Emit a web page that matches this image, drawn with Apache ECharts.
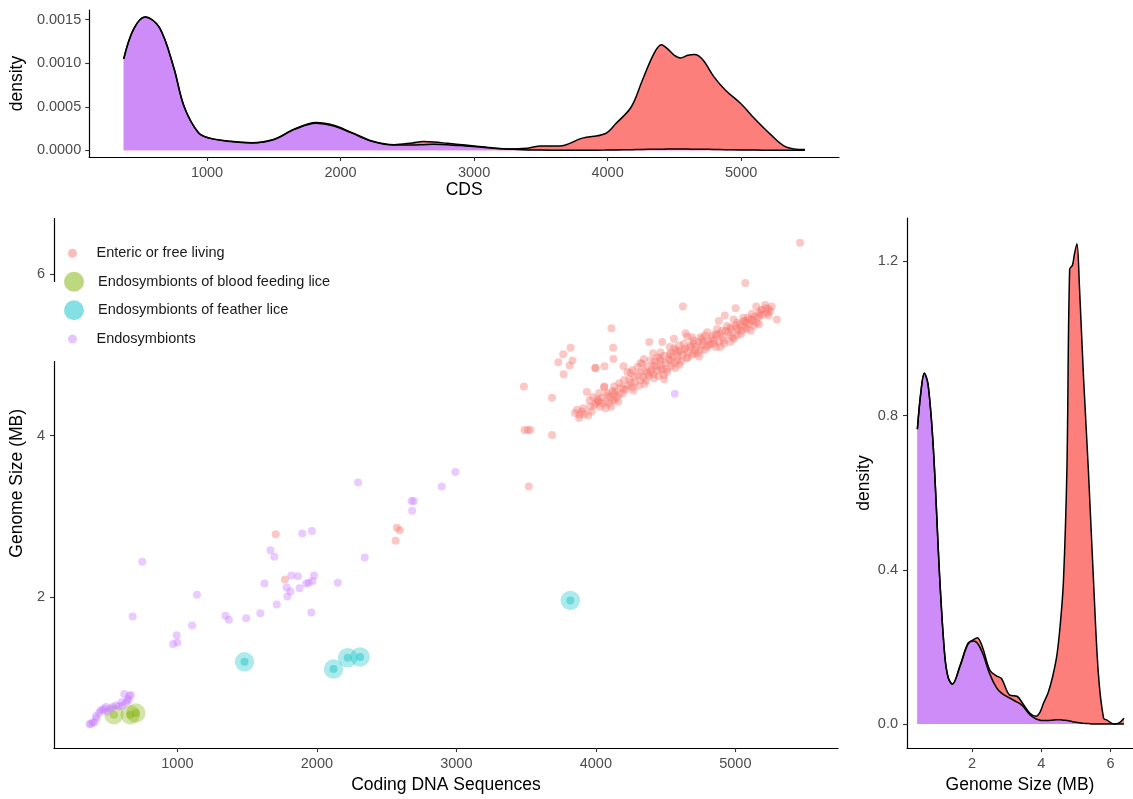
<!DOCTYPE html>
<html><head><meta charset="utf-8">
<script src="https://cdn.jsdelivr.net/npm/echarts@6/dist/echarts.min.js"></script>
<style>html,body{margin:0;padding:0;background:#fff}#c{width:1133px;height:799px}</style>
</head><body><div id="c"></div>
<script>
// ---------- marginal density: CDS (top panel) ----------
const cdsGrid = [376,450,536,643,749,829,936,1016,1176,1336,1496,1656,1816,1949,2082,2242,2402,2540,2620,2700,2800,2935,3100,3250,3400,3500,3641,3811,3980,4064,4178,4262,4347,4403,4445,4500,4545,4600,4650,4713,4798,4883,4995,5109,5222,5335,5478];
// endosymbionts density (purple area)
const cdsDensEndo = [0.00105,0.00139,0.00153,0.00141,0.00096,0.00050,0.00020,0.00014,0.00010,0.000085,0.00012,0.00024,0.00031,0.00028,0.00020,0.00010,0.00006,0.00006,0.000065,0.00007,0.000065,0.00005,0.00003,0.000015,0.000005,0.000003,0.000002,0.000002,0.000003,0.000005,0.000008,0.00001,0.000012,0.000013,0.000014,0.000014,0.000014,0.000014,0.000013,0.000012,0.00001,0.000008,0.000005,0.000003,0.000001,0,0];
// upper outline of the stacked densities (top of the red area)
const cdsDensTotal = [0.00105,0.00139,0.00153,0.00141,0.00096,0.00050,0.000202,0.000143,0.000103,0.000088,0.000124,0.000246,0.00032,0.000288,0.000205,0.000104,0.000065,0.000085,0.0001,0.000095,0.00008,0.00006,0.000035,0.000016,0.000025,0.00005,0.00005,0.00014,0.00019,0.00031,0.0005,0.00081,0.00111,0.00121,0.00117,0.00109,0.00106,0.00109,0.0011,0.00104,0.00084,0.00069,0.00054,0.00035,0.00018,0.00004,0.00001];
const cdsTicks = [1000,2000,3000,4000,5000];
const cdsDensTicks = [0,0.0005,0.0010,0.0015];

// ---------- marginal density: genome size (right panel) ----------
const gsGrid = [0.42,0.52,0.62,0.73,0.88,1.07,1.21,1.31,1.43,1.65,1.88,2.03,2.15,2.3,2.51,2.7,2.85,3.09,3.3,3.45,3.67,3.85,3.96,4.06,4.2,4.32,4.45,4.55,4.64,4.74,4.82,4.9,4.96,5.03,5.1,5.22,5.36,5.51,5.65,5.8,5.9,6.1,6.25,6.39];
const gsDensEndo = [0.765,0.86,0.91,0.88,0.717,0.37,0.178,0.12,0.103,0.149,0.207,0.215,0.21,0.185,0.13,0.095,0.08,0.067,0.057,0.048,0.024,0.013,0.01,0.009,0.009,0.01,0.011,0.011,0.01,0.009,0.008,0.006,0.005,0.004,0.003,0.002,0.001,0,0,0,0,0,0,0];
const gsDensTotal = [0.765,0.86,0.91,0.88,0.717,0.371,0.179,0.121,0.104,0.151,0.209,0.218,0.224,0.2,0.14,0.125,0.118,0.075,0.072,0.055,0.028,0.02,0.03,0.053,0.082,0.12,0.178,0.26,0.37,0.66,1.18,1.19,1.22,1.246,1.14,0.9,0.66,0.37,0.13,0.015,0.01,0,0.003,0.015];
const gsTicks = [2,4,6];
const gsDensTicks = [0,0.4,0.8,1.2];

// ---------- scatter: [coding DNA sequences, genome size MB] ----------
const enteric = [[1705,2.78],[1771,2.22],[2564,2.70],[2574,2.86],[2595,2.83],[3519,3.37],[3484,4.61],[3488,4.07],[3512,4.07],[3531,4.07],[3686,4.47],[3686,4.01],[3819,5.09],[3766,5.01],[3731,4.91],[3833,4.93],[3812,4.87],[3769,4.76],[3998,4.84],[4062,4.86],[4124,5.09],[4112,5.33],[3936,4.54],[3866,4.32],[3883,4.26],[3916,4.27],[3945,4.25],[3955,4.44],[3960,4.36],[4016,4.43],[4060,4.60],[4083,4.50],[4131,4.52],[4126,4.95],[5071,5.89],[4624,5.60],[4383,5.16],[4476,5.16],[4643,5.27],[4655,5.23],[5002,5.58],[4924,5.49],[4881,5.42],[5150,5.60],[5214,5.62],[5238,5.57],[5186,5.55],[5298,5.44],[5238,5.49],[5107,5.44],[5057,5.46],[5131,5.36],[5071,5.34],[5012,5.32],[4940,5.36],[4869,5.32],[4798,5.28],[4750,5.22],[4869,5.24],[4964,5.24],[4917,5.18],[4821,5.14],[4762,5.20],[4702,5.14],[4679,5.10],[4631,5.06],[4595,5.12],[4560,5.08],[4536,5.02],[4488,4.99],[4464,5.03],[4440,4.97],[4393,4.93],[4345,4.95],[4333,4.89],[4298,4.85],[4262,4.81],[4226,4.79],[4198,4.86],[3995,4.84],[4202,4.69],[4167,4.65],[4131,4.61],[4060,4.61],[4119,4.55],[4083,4.53],[4024,4.53],[4071,4.42],[4119,4.45],[4012,4.45],[4464,4.93],[4417,4.87],[4369,4.85],[4321,4.79],[4274,4.73],[4369,4.77],[4488,4.75],[4417,4.71],[4512,4.83],[4583,4.93],[4655,4.97],[4702,5.02],[4750,5.06],[4798,5.10],[4845,5.14],[4893,5.10],[4964,5.16],[5012,5.24],[5048,5.30],[5083,5.32],[5155,5.40],[5012,5.40],[4964,5.34],[5179,5.49],[5119,5.51],[5071,5.42],[4988,5.44],[4905,5.30],[4833,5.24],[4738,5.16],[4631,5.14],[4583,5.03],[4536,4.93],[4464,4.83],[4393,4.79],[4321,4.69],[4250,4.65],[4214,4.57],[4167,4.51],[4131,4.44],[4095,4.40],[4019,4.42],[5464,6.39],
[3990,4.38],[4040,4.47],[4050,4.40],[4100,4.48],[4140,4.55],[4150,4.47],[4180,4.60],[4190,4.52],[4230,4.62],[4240,4.70],[4260,4.60],[4280,4.66],[4300,4.75],[4310,4.62],[4340,4.72],[4350,4.80],[4360,4.68],[4380,4.74],[4400,4.82],[4410,4.76],[4430,4.86],[4440,4.80],[4450,4.74],[4470,4.88],[4480,4.82],[4500,4.90],[4510,4.79],[4520,4.94],[4540,4.86],[4550,4.98],[4560,4.90],[4570,4.84],[4590,4.98],[4600,5.05],[4610,4.92],[4620,5.00],[4640,5.08],[4650,4.96],[4660,5.04],[4680,5.12],[4690,5.00],[4710,5.06],[4720,5.10],[4730,5.02],[4760,5.12],[4770,5.16],[4780,5.06],[4800,5.18],[4810,5.12],[4830,5.20],[4850,5.18],[4860,5.26],[4880,5.16],[4890,5.26],[4910,5.22],[4930,5.30],[4950,5.28],[4970,5.32],[4980,5.22],[5000,5.36],[5020,5.30],[5030,5.38],[5050,5.36],[5060,5.42],[5080,5.40],[5090,5.46],[5100,5.38],[5120,5.44],[5140,5.48],[5160,5.46],[5170,5.52],[5190,5.56],[5200,5.50],[5220,5.58],[5230,5.52],[5250,5.54],[5260,5.60],[4420,4.92],[4460,4.96],[4530,5.00],[4575,5.06],[4700,5.18],[4740,4.98],[4600,4.88],[4490,4.70],[4350,4.64],[4270,4.56],[4200,4.58],[4160,4.42],[4110,4.36],[4070,4.34],[3970,4.30],[3900,4.30],[3880,4.22],[3910,4.34],[3850,4.28],[3980,4.48],[4000,4.40],[4030,4.36],[4860,5.10],[4920,5.14],[4990,5.20],[5040,5.26],[5110,5.30],[5130,5.42],[5170,5.38],[4780,5.24],[4690,5.22],[4560,5.20],[4530,5.10],[4410,5.02],[4320,4.90],[4250,4.78]];
const endosymbionts = [[369,0.43],[381,0.43],[393,0.45],[405,0.45],[417,0.53],[420,0.50],[440,0.57],[450,0.60],[464,0.60],[476,0.62],[488,0.64],[500,0.58],[520,0.62],[536,0.64],[560,0.66],[583,0.65],[600,0.70],[607,0.66],[619,0.80],[631,0.70],[643,0.74],[650,0.72],[655,0.78],[667,0.79],
[679,1.76],[748,2.44],[969,1.42],[995,1.53],[1000,1.44],[1105,1.65],[1140,2.03],[1345,1.77],[1369,1.72],[1493,1.74],[1595,1.80],[1624,2.17],[1667,2.58],[1695,2.50],[1712,1.91],[1783,2.12],[1788,2.01],[1810,2.07],[1817,2.27],[1864,2.26],[1876,2.11],[1895,2.79],[1924,2.17],[1941,2.18],[1960,1.81],[1964,2.82],[1969,2.20],[1979,2.27],[2150,2.18],[2295,3.42],[2343,2.49],[2679,3.19],[2695,3.19],[2683,3.07],[2895,3.37],[2993,3.55],[4566,4.52]];
const bloodLice = [[545,0.545],[662,0.545],[702,0.565]];
const featherLice = [[1481,1.20],[2119,1.11],[2221,1.25],[2310,1.26],[3817,1.96]];
const scatterXTicks = [1000,2000,3000,4000,5000];
const scatterYTicks = [2,4,6];

const legendNames = ['Enteric or free living','Endosymbionts of blood feeding lice','Endosymbionts of feather lice','Endosymbionts'];

const FONT = 'Liberation Sans, Arial, Helvetica, sans-serif';
const zip = (xs, ys) => xs.map((x, i) => [x, ys[i]]);

function axis(o) {
  return {
    type: 'value', gridIndex: o.grid, min: o.min, max: o.max,
    name: o.name, nameLocation: 'middle', nameGap: o.gap,
    nameTextStyle: {color: '#000', fontSize: 17.5, fontFamily: FONT},
    axisLine: {show: true, onZero: false, lineStyle: {color: '#000', width: 1.2}},
    axisTick: {show: true, length: 4, customValues: o.ticks, lineStyle: {color: '#333', width: 1.1}},
    axisLabel: {customValues: o.ticks, color: '#4D4D4D', fontSize: 14.5, fontFamily: FONT, margin: o.margin, formatter: o.fmt},
    splitLine: {show: false}
  };
}

const chart = echarts.init(document.getElementById('c'), null, {renderer: 'canvas'});

const legendY = [253.3, 281.7, 310.3, 339];
const legendSz = [9, 20, 20, 9];
const legendLeft = [68, 64, 64, 68];
const legendCol = ['rgba(248,118,109,0.6)', 'rgba(124,174,0,0.62)', 'rgba(0,191,196,0.6)', 'rgba(199,124,255,0.55)'];

function densityLine(name, xi, xs, ys, fill) {
  return {type: 'line', name, xAxisIndex: xi, yAxisIndex: xi, data: zip(xs, ys), smooth: 0.35, symbol: 'none',
    lineStyle: {color: '#000', width: 1.5}, areaStyle: {color: fill, opacity: 1, origin: 0}, silent: true};
}

const option = {
  animation: false,
  backgroundColor: '#fff',
  textStyle: {fontFamily: FONT},
  grid: [
    {left: 87.5, top: 10, width: 751.5, height: 147},
    {left: 50.7, top: 218.5, width: 787.3, height: 534.5},
    {left: 907, top: 218, width: 226, height: 536}
  ],
  xAxis: [
    axis({grid: 0, min: 118, max: 5733, name: 'CDS', gap: 24, ticks: cdsTicks, margin: 8, fmt: v => String(v)}),
    axis({grid: 1, min: 115, max: 5736, name: 'Coding DNA Sequences', gap: 27, ticks: scatterXTicks, margin: 8, fmt: v => String(v)}),
    axis({grid: 2, min: 0.12, max: 6.65, name: 'Genome Size (MB)', gap: 25.5, ticks: gsTicks, margin: 8, fmt: v => String(v)})
  ],
  yAxis: [
    axis({grid: 0, min: -0.0000765, max: 0.00161, name: 'density', gap: 59, ticks: cdsDensTicks, margin: 8, fmt: v => v.toFixed(4)}),
    axis({grid: 1, min: 0.131, max: 6.69, name: 'Genome Size (MB)', gap: 22, ticks: scatterYTicks, margin: 9, fmt: v => String(v)}),
    axis({grid: 2, min: -0.0625, max: 1.3125, name: 'density', gap: 33.5, ticks: gsDensTicks, margin: 9, fmt: v => v.toFixed(1)})
  ],
  legend: legendNames.map((n, i) => ({
    data: [{name: n, icon: 'circle', itemStyle: {color: legendCol[i]}}],
    left: legendLeft[i], top: legendY[i] - Math.max(legendSz[i], 15) / 2, padding: 0,
    itemWidth: 38, itemHeight: legendSz[i], selectedMode: false,
    textStyle: {fontSize: 14.5, color: '#1a1a1a', fontFamily: FONT}
  })),
  graphic: [
    {type: 'rect', shape: {x: 44, y: 282, width: 12, height: 79}, style: {fill: '#fff'}, z: 100, silent: true}
  ],
  series: [
    densityLine('cdsUpper', 0, cdsGrid, cdsDensTotal, '#FD7F7B'),
    densityLine('cdsEndo', 0, cdsGrid, cdsDensEndo, '#CD8CF7'),
    densityLine('gsUpper', 2, gsGrid, gsDensTotal, '#FD7F7B'),
    densityLine('gsEndo', 2, gsGrid, gsDensEndo, '#CD8CF7'),
    {type: 'scatter', name: legendNames[1], xAxisIndex: 1, yAxisIndex: 1, data: bloodLice, symbolSize: 19.5,
     itemStyle: {color: 'rgba(124,174,0,0.42)'}, silent: true},
    {type: 'scatter', name: legendNames[2], xAxisIndex: 1, yAxisIndex: 1, data: featherLice, symbolSize: 19.5,
     itemStyle: {color: 'rgba(0,191,196,0.4)'}, silent: true},
    {type: 'scatter', name: legendNames[0], xAxisIndex: 1, yAxisIndex: 1, data: enteric, symbolSize: 8,
     itemStyle: {color: 'rgba(248,118,109,0.5)'}, silent: true},
    {type: 'scatter', name: 'bloodLiceCore', xAxisIndex: 1, yAxisIndex: 1, data: bloodLice, symbolSize: 8,
     itemStyle: {color: 'rgba(124,174,0,0.5)'}, silent: true},
    {type: 'scatter', name: 'featherLiceCore', xAxisIndex: 1, yAxisIndex: 1, data: featherLice, symbolSize: 8,
     itemStyle: {color: 'rgba(0,191,196,0.5)'}, silent: true},
    {type: 'scatter', name: legendNames[3], xAxisIndex: 1, yAxisIndex: 1, data: endosymbionts, symbolSize: 8,
     itemStyle: {color: 'rgba(199,124,255,0.5)'}, silent: true}
  ]
};
chart.setOption(option);
</script>
</body></html>
